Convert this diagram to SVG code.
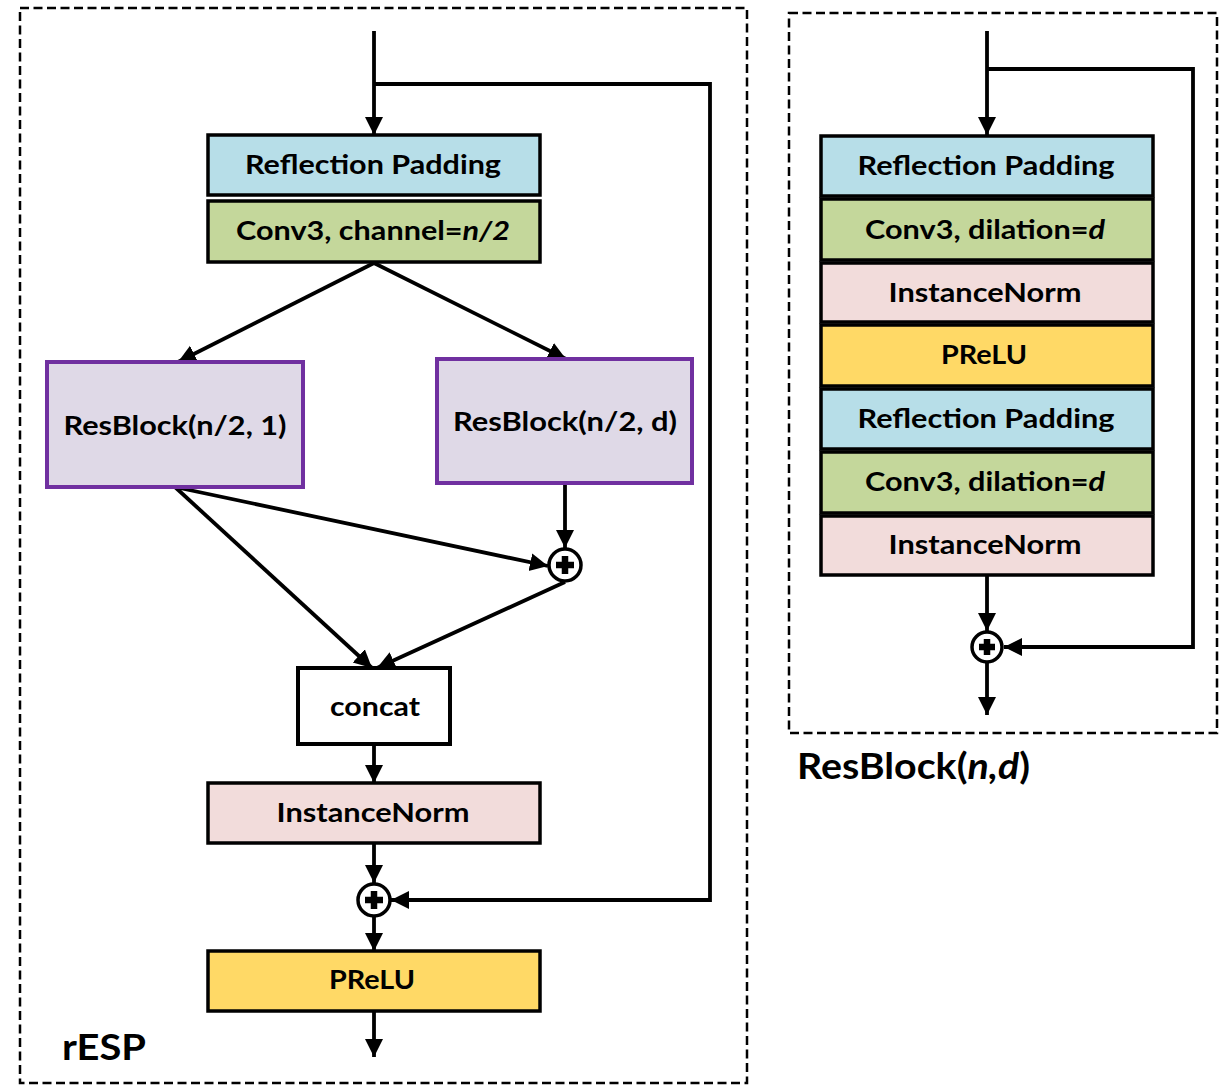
<svg xmlns="http://www.w3.org/2000/svg" width="1221" height="1085" viewBox="0 0 1221 1085">
<style>
.frame{fill:none;stroke:#000;stroke-width:2.5;stroke-dasharray:9 4.5}
.box{stroke:#000;stroke-width:3.5}
.blue{fill:#B7DEE8}
.green{fill:#C4D79B}
.pink{fill:#F2DCDB}
.yellow{fill:#FFD966}
.purple{fill:#DFD9E7;stroke:#7030A0;stroke-width:4}
.white{fill:#FFFFFF;stroke:#000;stroke-width:4}
text{font-family:Lato,"Open Sans","Liberation Sans",sans-serif;font-weight:bold;fill:#000;text-anchor:middle}
.t{font-size:27px}
.big{font-size:37px;text-anchor:start}
.con{fill:none;stroke:#000;stroke-width:3.8}
.sum circle{fill:#fff;stroke:#000;stroke-width:3.5}
.sum path{fill:none;stroke:#000;stroke-width:6.5}
</style>
<defs>
<marker id="ah" markerUnits="userSpaceOnUse" markerWidth="20" markerHeight="20" viewBox="0 0 20 20" refX="18" refY="10" orient="auto">
<path d="M0,1 L18,10 L0,19 z" fill="#000"/>
</marker>
</defs>

<rect class="frame" x="20" y="8" width="727" height="1075"/>
<rect class="frame" x="789" y="13" width="428" height="720"/>

<g id="connectors">
<path class="con" d="M374,31 V135" marker-end="url(#ah)"/>
<path class="con" d="M374,84 H710 V900 H391" marker-end="url(#ah)"/>
<path class="con" d="M374,263 L178,362" marker-end="url(#ah)"/>
<path class="con" d="M374,263 L566,359" marker-end="url(#ah)"/>
<path class="con" d="M175,487 L372,668" marker-end="url(#ah)"/>
<path class="con" d="M175,487 L548,566" marker-end="url(#ah)"/>
<path class="con" d="M565,483 V548" marker-end="url(#ah)"/>
<path class="con" d="M565,582 L377,668" marker-end="url(#ah)"/>
<path class="con" d="M374,744 V783" marker-end="url(#ah)"/>
<path class="con" d="M374,843 V883" marker-end="url(#ah)"/>
<path class="con" d="M374,917 V951" marker-end="url(#ah)"/>
<path class="con" d="M374,1011 V1057" marker-end="url(#ah)"/>
<path class="con" d="M987,31 V135" marker-end="url(#ah)"/>
<path class="con" d="M987,69 H1193 V647 H1004" marker-end="url(#ah)"/>
<path class="con" d="M987,575 V631" marker-end="url(#ah)"/>
<path class="con" d="M987,663 V715" marker-end="url(#ah)"/>
</g>

<g id="l-refpad"><rect class="box blue" x="208" y="135" width="332" height="60"/><text class="t" x="373" y="174" textLength="256" lengthAdjust="spacingAndGlyphs">Reflection Padding</text></g>
<g id="l-conv"><rect class="box green" x="208" y="201" width="332" height="61"/><text class="t" x="373" y="240" textLength="274" lengthAdjust="spacingAndGlyphs">Conv3, channel=<tspan font-style="italic">n/2</tspan></text></g>
<g id="l-rb1"><rect class="purple" x="47" y="362" width="256" height="125"/><text class="t" x="175" y="435" textLength="223" lengthAdjust="spacingAndGlyphs">ResBlock(n/2, 1)</text></g>
<g id="l-rb2"><rect class="purple" x="437" y="359" width="255" height="124"/><text class="t" x="565" y="431" textLength="224" lengthAdjust="spacingAndGlyphs">ResBlock(n/2, d)</text></g>
<g id="l-sum1" class="sum"><circle cx="565" cy="565" r="16"/><path d="M556,565 H574 M565,556 V574"/></g>
<g id="l-concat"><rect class="white" x="298" y="668" width="152" height="76"/><text class="t" x="375" y="716" textLength="90" lengthAdjust="spacingAndGlyphs">concat</text></g>
<g id="l-inorm"><rect class="box pink" x="208" y="783" width="332" height="60"/><text class="t" x="373" y="822" textLength="193" lengthAdjust="spacingAndGlyphs">InstanceNorm</text></g>
<g id="l-sum2" class="sum"><circle cx="374" cy="900" r="16"/><path d="M365,900 H383 M374,891 V909"/></g>
<g id="l-prelu"><rect class="box yellow" x="208" y="951" width="332" height="60"/><text class="t" x="372" y="989" textLength="86" lengthAdjust="spacingAndGlyphs">PReLU</text></g>
<g id="l-label"><text class="big" x="62" y="1060" textLength="84" lengthAdjust="spacingAndGlyphs">rESP</text></g>

<g id="r-refpad1"><rect class="box blue" x="821" y="136" width="332" height="60"/><text class="t" x="986" y="175" textLength="257" lengthAdjust="spacingAndGlyphs">Reflection Padding</text></g>
<g id="r-conv1"><rect class="box green" x="821" y="199" width="332" height="61"/><text class="t" x="985" y="239" textLength="240" lengthAdjust="spacingAndGlyphs">Conv3, dilation=<tspan font-style="italic">d</tspan></text></g>
<g id="r-inorm1"><rect class="box pink" x="821" y="263" width="332" height="59"/><text class="t" x="985" y="302" textLength="193" lengthAdjust="spacingAndGlyphs">InstanceNorm</text></g>
<g id="r-prelu"><rect class="box yellow" x="821" y="325" width="332" height="61"/><text class="t" x="984" y="364" textLength="86" lengthAdjust="spacingAndGlyphs">PReLU</text></g>
<g id="r-refpad2"><rect class="box blue" x="821" y="389" width="332" height="60"/><text class="t" x="986" y="428" textLength="257" lengthAdjust="spacingAndGlyphs">Reflection Padding</text></g>
<g id="r-conv2"><rect class="box green" x="821" y="452" width="332" height="61"/><text class="t" x="985" y="491" textLength="240" lengthAdjust="spacingAndGlyphs">Conv3, dilation=<tspan font-style="italic">d</tspan></text></g>
<g id="r-inorm2"><rect class="box pink" x="821" y="516" width="332" height="59"/><text class="t" x="985" y="554" textLength="193" lengthAdjust="spacingAndGlyphs">InstanceNorm</text></g>
<g id="r-sum" class="sum"><circle cx="987" cy="647" r="15"/><path d="M979,647 H995 M987,639 V655"/></g>
<g id="r-label"><text class="big" x="797" y="779" textLength="233" lengthAdjust="spacingAndGlyphs">ResBlock(<tspan font-style="italic">n,d</tspan>)</text></g>
</svg>
